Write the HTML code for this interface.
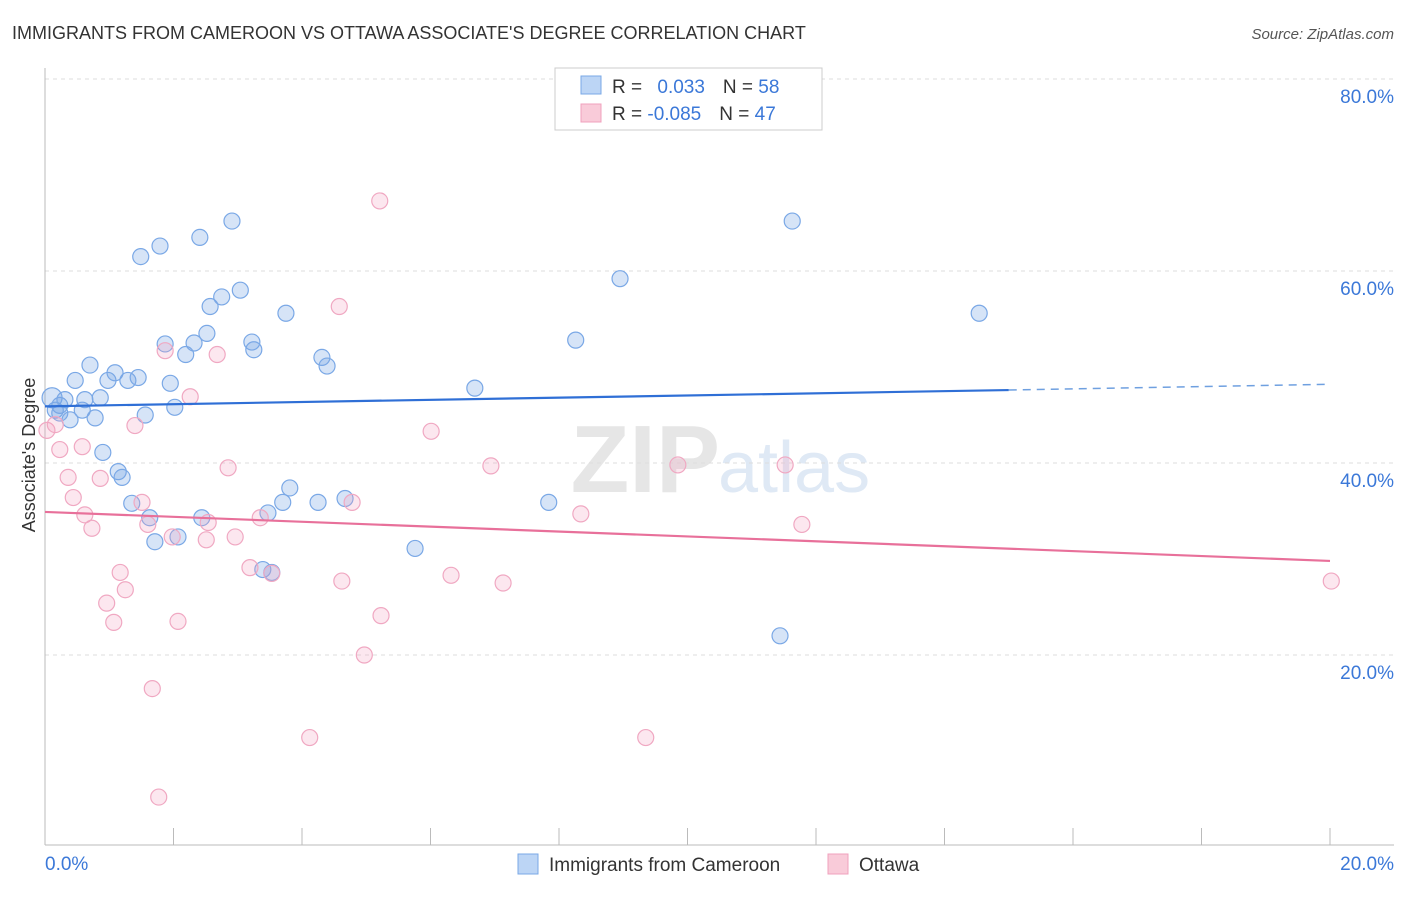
<!DOCTYPE html>
<html><head><meta charset="utf-8"><style>
body{margin:0;background:#fff;font-family:"Liberation Sans",sans-serif}
svg text{font-family:"Liberation Sans",sans-serif}
</style></head><body>
<svg id="c" width="1406" height="892">
<text x="12" y="39" font-size="18" fill="#333">IMMIGRANTS FROM CAMEROON VS OTTAWA ASSOCIATE'S DEGREE CORRELATION CHART</text>
<text x="1394" y="39" font-size="15" fill="#555" font-style="italic" text-anchor="end">Source: ZipAtlas.com</text>
<text x="720" y="492" font-size="96" fill="#e6e6e6" text-anchor="end" font-family="Liberation Serif" font-weight="bold">ZIP</text>
<text x="718" y="492" font-size="72" fill="#dfe9f5">atlas</text>
<g id="grid"></g>
<g id="pts"></g>
<text x="35" y="455" font-size="18" fill="#333" text-anchor="middle" transform="rotate(-90 35 455)">Associate's Degree</text>
<g>
<rect x="555" y="68" width="267" height="62" fill="#fff" stroke="#ccc"/>
<rect x="581" y="76" width="20" height="18" fill="#bcd5f5" stroke="#7aa8e6"/>
<rect x="581" y="104" width="20" height="18" fill="#f9cbd9" stroke="#f0a0bd"/>
<text x="612" y="93" font-size="19" fill="#333">R = <tspan fill="#3b78d8" dx="10">0.033</tspan><tspan fill="#333" dx="18">N = </tspan><tspan fill="#3b78d8">58</tspan></text>
<text x="612" y="120" font-size="19" fill="#333">R = <tspan fill="#3b78d8">-0.085</tspan><tspan fill="#333" dx="18">N = </tspan><tspan fill="#3b78d8">47</tspan></text>
</g>
<g>
<rect x="518" y="854" width="20" height="20" fill="#bcd5f5" stroke="#7aa8e6"/>
<text x="549" y="871" font-size="19" fill="#333">Immigrants from Cameroon</text>
<rect x="828" y="854" width="20" height="20" fill="#f9cbd9" stroke="#f0a0bd"/>
<text x="859" y="871" font-size="19" fill="#333">Ottawa</text>
</g>
</svg>
<script>
const blueX=[0.11,0.16,0.23,0.31,0.39,0.47,0.58,0.62,0.70,0.78,0.86,0.90,0.98,1.09,1.14,1.20,1.29,1.35,1.45,1.49,1.56,1.63,1.71,1.79,1.87,1.95,2.02,2.07,2.19,2.32,2.41,2.44,2.52,2.57,2.75,2.91,3.04,3.22,3.25,3.39,3.47,3.53,3.70,3.75,3.81,4.25,4.31,4.39,4.67,5.76,6.69,7.84,8.26,8.95,11.44,11.63,14.54,0.23];
const blueY=[46.8,45.5,46.0,46.6,44.5,48.6,45.5,46.6,50.2,44.7,46.8,41.1,48.6,49.4,39.1,38.5,48.6,35.8,48.9,61.5,45.0,34.3,31.8,62.6,52.4,48.3,45.8,32.3,51.3,52.5,63.5,34.3,53.5,56.3,57.3,65.2,58.0,52.6,51.8,28.9,34.8,28.6,35.9,55.6,37.4,35.9,51.0,50.1,36.3,31.1,47.8,35.9,52.8,59.2,22.0,65.2,55.6,45.2];
const pinkX=[0.03,0.16,0.23,0.36,0.44,0.62,0.73,0.86,0.96,1.07,1.17,1.25,1.40,1.51,1.60,1.67,1.77,1.87,1.98,2.07,2.26,2.51,2.54,2.68,2.85,2.96,3.19,3.35,3.53,4.12,4.58,4.62,4.78,4.97,5.21,5.23,6.01,6.32,6.94,7.13,8.34,9.35,9.85,11.52,11.78,20.02,0.58];
const pinkY=[43.4,44.0,41.4,38.5,36.4,34.6,33.2,38.4,25.4,23.4,28.6,26.8,43.9,35.9,33.6,16.5,5.2,51.7,32.3,23.5,46.9,32.0,33.8,51.3,39.5,32.3,29.1,34.3,28.5,11.4,56.3,27.7,35.9,20.0,67.3,24.1,43.3,28.3,39.7,27.5,34.7,11.4,39.8,39.8,33.6,27.7,41.7];
const blueTrend=[45.9,47.6,48.2];
const pinkTrend=[34.9,29.8];
const yTicks=[20,40,60,80];
const xTickLabels=["0.0%","20.0%"];
const xs=v=>45+v*64.25, ys=v=>847-v*9.6;
const NS="http://www.w3.org/2000/svg";
function mk(t,a,p){const e=document.createElementNS(NS,t);for(const k in a)e.setAttribute(k,a[k]);p.appendChild(e);return e;}
const g=document.getElementById('grid'), P=document.getElementById('pts');
yTicks.forEach(t=>{
 const l=mk('line',{x1:45,x2:1394,y1:ys(t),y2:ys(t),stroke:'#ddd','stroke-dasharray':'4,4'},g);
 
 
 const tx=mk('text',{x:1394,y:ys(t)+24,'font-size':19,fill:'#3b78d8','text-anchor':'end'},g);
 tx.textContent=t.toFixed(1)+'%';
 
 
});
const ax=mk('line',{x1:45,x2:1394,y1:845,y2:845,stroke:'#bbb'},g);


const ay=mk('line',{x1:45,x2:45,y1:68,y2:845,stroke:'#bbb'},g);


for(let i=0;i<=10;i++){const t=mk('line',{x1:xs(i*2),x2:xs(i*2),y1:828,y2:845,stroke:'#bbb'},g);
 
 }
[[0,'start',45],[20,'end',1394]].forEach((o,i)=>{const t=mk('text',{x:o[2],y:870,'font-size':19,fill:'#3b78d8','text-anchor':o[1]},g);t.textContent=xTickLabels[i];
 
 });
blueX.forEach((x,i)=>{const c=mk('circle',{cx:xs(x),cy:ys(blueY[i]),r:i==0?10:8,fill:'rgba(120,165,230,0.3)',stroke:'#7aa8e6','stroke-width':1.2},P);
 
 });
pinkX.forEach((x,i)=>{const c=mk('circle',{cx:xs(x),cy:ys(pinkY[i]),r:8,fill:'rgba(245,160,190,0.25)',stroke:'#f0a8c2','stroke-width':1.2},P);
 
 });
const b1=mk('line',{x1:xs(0),y1:ys(blueTrend[0]),x2:xs(15),y2:ys(blueTrend[1]),stroke:'#2f6fd6','stroke-width':2.2},P);


const b2=mk('line',{x1:xs(15),y1:ys(blueTrend[1]),x2:xs(20),y2:ys(blueTrend[2]),stroke:'#6fa0e0','stroke-width':1.5,'stroke-dasharray':'8,6'},P);


const p1=mk('line',{x1:xs(0),y1:ys(pinkTrend[0]),x2:xs(20),y2:ys(pinkTrend[1]),stroke:'#e8709a','stroke-width':2.2},P);


</script>
</body></html>
